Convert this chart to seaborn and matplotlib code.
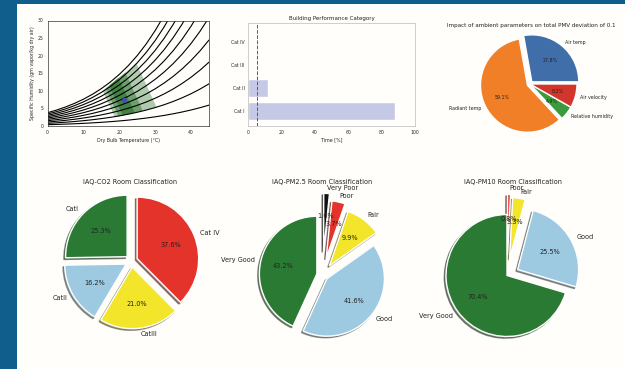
import numpy as np
import pandas as pd
import matplotlib
matplotlib.use('Agg')
import matplotlib.pyplot as plt
from matplotlib.patches import Rectangle, Polygon
import seaborn as sns

sns.set_style('white')
plt.rcParams['font.family'] = ['DejaVu Sans']
plt.rcParams['text.color'] = '#222222'

W, H = 625, 369
PANEL = '#fffefa'
FRAME = '#0f5e8c'

# --- psychrometric chart data ---
temps = [0, 2.5, 5, 7.5, 10, 12.5, 15, 17.5, 20, 22.5, 25, 27.5, 30, 32.5, 35, 37.5, 40, 42.5, 45]
sat_pressure_kpa = [0.611, 0.731, 0.872, 1.036, 1.226, 1.447, 1.702, 1.996, 2.333, 2.719, 3.160,
                    3.663, 4.234, 4.881, 5.613, 6.439, 7.369, 8.411, 9.579]
rh_levels = [0.1, 0.2, 0.3, 0.4, 0.5, 0.6, 0.7, 0.8, 0.9, 1.0]
# comfort zone corners (dry bulb C, g/kg), outer to inner
zone_cat3_t = [18.8, 30.4, 24.8, 15.4]
zone_cat3_w = [2.5, 5.3, 17.8, 10.0]
zone_cat2_t = [19.8, 26.5, 21.7, 16.2]
zone_cat2_w = [2.7, 4.4, 15.2, 10.7]
zone_cat1_t = [21.0, 24.3, 19.8, 17.2]
zone_cat1_w = [3.0, 3.8, 13.7, 11.5]
zone_alpha = [0.35, 0.45, 0.55]
room_t = [21.3]
room_w = [7.4]

# --- building performance ---
perf_cats = ['Cat IV', 'Cat III', 'Cat II', 'Cat I']
perf_time = [0.0, 0.5, 12.0, 88.0]
perf_limit = 5

# --- PMV impact ---
pmv_labels = ['Air temp', 'Radiant temp', 'Relative humidity', 'Air velocity']
pmv_share = [27.8, 59.1, 4.9, 8.2]
pmv_colors = ['#3f6ea8', '#f07f27', '#3b9a3b', '#d2352c']

# --- IAQ pies ---
co2_labels = ['CatI', 'CatII', 'CatIII', 'Cat IV']
co2_share = [25.3, 16.2, 21.0, 37.6]
co2_colors = ['#2a7a34', '#9ecae1', '#f2e52a', '#e3332a']

pm25_labels = ['Very Good', 'Good', 'Fair', 'Poor', 'Very Poor']
pm25_share = [43.2, 41.6, 9.9, 3.7, 1.6]
pm25_colors = ['#2a7a34', '#9ecae1', '#f2e52a', '#e3332a', '#111111']

pm10_labels = ['Very Good', 'Good', 'Fair', 'Poor']
pm10_share = [70.4, 25.5, 3.3, 0.8]
pm10_colors = ['#2a7a34', '#9ecae1', '#f2e52a', '#e3332a']


fig = plt.figure(figsize=(W / 100, H / 100), dpi=100, facecolor=PANEL)
fig.patches.append(Rectangle((0, 0), 17 / W, 1, transform=fig.transFigure,
                             facecolor=FRAME, edgecolor='none', zorder=-10))
fig.patches.append(Rectangle((0, 1 - 4 / H), 1, 4 / H, transform=fig.transFigure,
                             facecolor=FRAME, edgecolor='none', zorder=-10))


def px_axes(left, top, right, bottom):
    return fig.add_axes([left / W, 1 - bottom / H, (right - left) / W, (bottom - top) / H])


# psychrometric chart
ax = px_axes(47.5, 20.5, 209, 126)
ax.set_facecolor(PANEL)
rows = []
for rh in rh_levels:
    for t, ps in zip(temps, sat_pressure_kpa):
        rows.append({'rh': rh, 't': t, 'w': 622 * rh * ps / (101.325 - rh * ps)})
curves = pd.DataFrame(rows)
zones = [(zone_cat3_t, zone_cat3_w), (zone_cat2_t, zone_cat2_w), (zone_cat1_t, zone_cat1_w)]
for (zt, zw), a in zip(zones, zone_alpha):
    ax.add_patch(Polygon(list(zip(zt, zw)), closed=True, facecolor='#1e6b22', alpha=a,
                         edgecolor='none', zorder=1))
sns.lineplot(data=curves, x='t', y='w', units='rh', estimator=None, color='black', lw=0.8,
             ax=ax, zorder=2)
ax.plot(room_t, room_w, 'o', color='#4a4ab8', ms=2.6, zorder=3)
ax.set_xlim(0, 45)
ax.set_ylim(0, 30)
ax.set_xticks([0, 10, 20, 30, 40])
ax.set_yticks([0, 5, 10, 15, 20, 25, 30])
ax.tick_params(labelsize=3.3, length=1.5, width=0.4, pad=1.2)
ax.set_xlabel('Dry Bulb Temperature (°C)', fontsize=3.4, labelpad=2)
ax.set_ylabel('Specific Humidity (gm vapor/kg dry air)', fontsize=3.4, labelpad=2)
for s in ax.spines.values():
    s.set_linewidth(0.5)
    s.set_color('#333333')

# building performance category
ax = px_axes(248.3, 23, 415, 126)
ax.set_facecolor(PANEL)
perf = pd.DataFrame({'cat': perf_cats, 'time': perf_time})
sns.barplot(data=perf, x='time', y='cat', order=perf_cats, color='#c5c9e5', saturation=1,
            errorbar=None, width=0.8, ax=ax)
ax.axvline(perf_limit, color='#4a5aa0', ls='--', lw=0.7)
ax.set_xlim(0, 100)
ax.set_ylim(3.67, -0.85)
ax.set_xticks([0, 20, 40, 60, 80, 100])
ax.tick_params(labelsize=3.3, length=1.5, width=0.4, pad=1.2)
ax.set_xlabel('Time [%]', fontsize=3.4, labelpad=2)
ax.set_ylabel('')
for s in ax.spines.values():
    s.set_linewidth(0.4)
    s.set_color('#aaaaaa')
fig.text(331.6 / W, 1 - 18.3 / H, 'Building Performance Category', fontsize=4.0,
         ha='center', va='center')


def pie_axes(cx, cy, r, L=1.7):
    half = L * r
    a = px_axes(cx - half, cy - half, cx + half, cy + half)
    return a, L


# PMV pie
ax, L = pie_axes(530, 84, 47)
ax.pie(pmv_share, labels=pmv_labels, colors=pmv_colors, autopct='%1.1f%%', startangle=0,
       explode=[0.06, 0.06, 0, 0], textprops={'fontsize': 3.4})
ax.set_xlim(-L, L)
ax.set_ylim(-L, L)
ax.axis('off')
fig.text(531.7 / W, 1 - 25 / H, 'Impact of ambient parameters on total PMV deviation of 0.1',
         fontsize=4.1, ha='center', va='center')

# IAQ pies
iaq = [
    (co2_share, co2_labels, co2_colors, [0.1, 0.1, 0.1, 0.1], 90, (131.5, 261, 61.5),
     'IAQ-CO2 Room Classification', 130),
    (pm25_share, pm25_labels, pm25_colors, [0.1, 0.1, 0.2, 0.3, 0.42], 90, (322.5, 275, 57.5),
     'IAQ-PM2.5 Room Classification', 321.7),
    (pm10_share, pm10_labels, pm10_colors, [0, 0.2, 0.28, 0.33], 90, (507, 275.5, 61),
     'IAQ-PM10 Room Classification', 513),
]
for share, labels, colors, explode, start, (cx, cy, r), title, tx in iaq:
    ax, L = pie_axes(cx, cy, r)
    ax.pie(share, labels=labels, colors=colors, autopct='%1.1f%%', startangle=start,
           explode=explode, shadow=True, textprops={'fontsize': 4.7})
    ax.set_xlim(-L, L)
    ax.set_ylim(-L, L)
    ax.axis('off')
    fig.text(tx / W, 1 - 181.7 / H, title, fontsize=4.7, ha='center', va='center')

fig.savefig('out.png', dpi=100, facecolor=fig.get_facecolor())
